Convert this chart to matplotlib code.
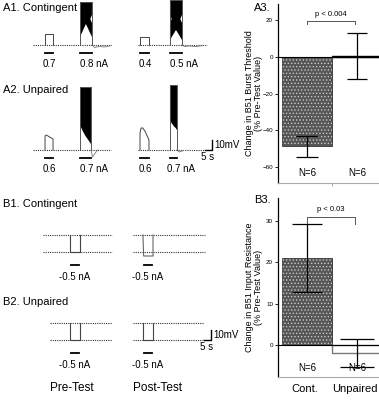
import numpy as np
import matplotlib
matplotlib.use('Agg')
import matplotlib.pyplot as plt
from matplotlib.transforms import Affine2D

plt.rcParams['font.family'] = ['Liberation Sans', 'DejaVu Sans']
plt.rcParams['hatch.linewidth'] = 0.6

# ---- bar chart data ----
groups = ['Cont.', 'Unpaired']
n_labels = ['N=6', 'N=6']
threshold_mean = [-49, 0.4]
threshold_sem = [6, 12.5]
resistance_mean = [21, -2]
resistance_sem = [8.2, 3.4]

# ---- intracellular traces (time in s, membrane potential in mV rel. to rest) ----
# A1 contingent
a1_pre_span = [0, 56]
a1_pre_step = ([8.6, 8.6, 14.3, 14.3], [0, 11, 11, 0])
a1_pre_burst = ([33.6, 33.6, 42.1, 42.1], [0, 43, 43, 0])
a1_pre_spikes = ([33.6, 33.6, 42.1, 42.1, 40.9, 42.1, 42.1, 39.8, 37.8, 35.8, 33.6],
                 [8, 43, 43, 30, 26, 22, 8, 15, 21, 15, 8])
a1_pre_ahp = ([42.1, 44, 47, 51, 56], [0, -2.5, -1.5, -2, -0.5])
a1_post_span = [3.6, 53]
a1_post_step = ([5, 5, 11.4, 11.4], [0, 8, 8, 0])
a1_post_burst = ([26.4, 26.4, 35, 35], [0, 45, 45, 0])
a1_post_spikes = ([26.4, 26.4, 27.6, 26.4, 26.4, 28.5, 30.7, 32.9, 35, 35, 33.8, 35, 35],
                  [45, 30, 26, 22, 5, 10, 15, 10, 5, 22, 26, 30, 45])
a1_post_ahp = ([35, 37, 40, 45, 50], [0, -1.5, -1, -1.5, -0.5])

# A2 unpaired
a2_pre_span = [0, 56]
a2_pre_step = ([8.6, 8.6, 9.5, 14.3, 14.3], [0, 14, 15, 11, 0])
a2_pre_burst = ([33.6, 33.6, 41.4, 41.4], [0, 63, 63, 0])
a2_pre_spikes = ([33.6, 33.6, 41.4, 41.4, 39.5, 37.5, 35.5, 33.6],
                 [25, 63, 63, 6, 10, 14, 19, 25])
a2_pre_ahp = ([41.4, 42.5, 44, 46], [0, -7, -4, 0])
a2_post_span = [3.6, 51]
a2_post_step = ([5, 5, 5.8, 7, 8.5, 10.5, 11.4, 11.4], [0, 17, 22, 22, 19, 13, 10, 0])
a2_post_burst = ([26.4, 26.4, 31.4, 31.4], [0, 65, 65, 0])
a2_post_spikes = ([26.4, 26.4, 31.4, 31.4, 30.5, 29, 27.5, 26.4],
                  [30, 65, 65, 20, 22, 24, 27, 30])
a2_post_ahp = ([31.4, 33, 36], [0, -2, -0.5])

# B1 contingent / B2 unpaired (hyperpolarizing pulses)
b_ref_mv = -17
b1_pre_span = [7, 56.4]
b1_pre_step = ([26.4, 26.4, 33.6, 33.6], [0, -17, -17, 0])
b1_post_span = [0, 51.4]
b1_post_step = ([7.1, 7.6, 14.3, 14.3], [0, -21, -21, 0])
b2_pre_span = [12.1, 56.4]
b2_pre_step = ([26.4, 26.4, 33.6, 33.6], [0, -17, -17, 0])
b2_post_span = [0, 50]
b2_post_step = ([7.1, 7.1, 14.3, 14.3], [0, -17, -17, 0])

a1_labels = [['0.7', '0.8'], ['0.4', '0.5']]
a2_labels = [['0.6', '0.7'], ['0.6', '0.7']]
b_labels = ['-0.5', '-0.5']

PX_S = 1.4   # pixels per second
PX_MV = 1.0  # pixels per mV

fig = plt.figure(figsize=(3.79, 4.0), dpi=100)
tr = fig.add_axes([0, 0, 1, 1])
tr.set_xlim(0, 379)
tr.set_ylim(400, 0)
tr.axis('off')


def tf(x0, y0):
    return Affine2D().scale(PX_S, -PX_MV).translate(x0, y0) + tr.transData


def to_px(T, pt):
    return tr.transData.inverted().transform(T.transform(pt))


def baseline(T, span, v=0):
    tr.plot(span, [v, v], transform=T, color='#333333', lw=0.8,
            ls=(0, (1, 1)))


def draw_a_trace(x0, y0, span, step, burst, spikes, ahp, labels):
    T = tf(x0, y0)
    baseline(T, span)
    tr.plot(*ahp, transform=T, color='#777777', lw=0.6)
    tr.plot(*step, transform=T, color='#444444', lw=0.7)
    tr.plot(*burst, transform=T, color='#555555', lw=0.7)
    tr.fill(*spikes, transform=T, color='black', lw=0)
    for (t, v), lab, unit in zip([step, burst], labels, ['', ' nA']):
        t0, t1 = min(t), max(t)
        tr.plot([t0, t1], [-8, -8], transform=T, color='black', lw=1.3)
        xc, yc = to_px(T, ((t0 + t1) / 2, -19))
        tr.text(xc - 6, yc, lab + unit, ha='left', va='center', fontsize=7)


def draw_b_trace(x0, y0, span, step, lab, step_color='#444444'):
    T = tf(x0, y0)
    baseline(T, span)
    baseline(T, span, b_ref_mv)
    tr.plot(*step, transform=T, color=step_color, lw=0.8)
    t0, t1 = min(step[0]), max(step[0])
    tr.plot([t0 + 0.5, t1 - 0.5], [-30, -30], transform=T, color='black', lw=1.3)
    xc, yc = to_px(T, ((t0 + t1) / 2, -42))
    tr.text(xc, yc, lab + ' nA', ha='center', va='center', fontsize=7)


def scale_bar(x0, y0):
    T = tf(x0, y0)
    tr.plot([-5, 0, 0], [0, 0, 10], transform=T, color='black', lw=1.0)
    tr.text(x0 + 2, y0 - 5, '10mV', ha='left', va='center', fontsize=7)
    tr.text(x0 - 4, y0 + 7, '5 s', ha='center', va='center', fontsize=7)


PRE_X, POST_X = 33, 133
A1_Y, A2_Y, B1_Y, B2_Y = 45, 150, 235, 323

tr.text(3, 8, 'A1. Contingent', fontsize=8, va='center')
tr.text(3, 90, 'A2. Unpaired', fontsize=8, va='center')
tr.text(3, 204, 'B1. Contingent', fontsize=8, va='center')
tr.text(3, 302, 'B2. Unpaired', fontsize=8, va='center')

draw_a_trace(PRE_X, A1_Y, a1_pre_span, a1_pre_step, a1_pre_burst,
             a1_pre_spikes, a1_pre_ahp, a1_labels[0])
draw_a_trace(POST_X, A1_Y, a1_post_span, a1_post_step, a1_post_burst,
             a1_post_spikes, a1_post_ahp, a1_labels[1])
draw_a_trace(PRE_X, A2_Y, a2_pre_span, a2_pre_step, a2_pre_burst,
             a2_pre_spikes, a2_pre_ahp, a2_labels[0])
draw_a_trace(POST_X, A2_Y, a2_post_span, a2_post_step, a2_post_burst,
             a2_post_spikes, a2_post_ahp, a2_labels[1])
scale_bar(212, A2_Y)

draw_b_trace(PRE_X, B1_Y, b1_pre_span, b1_pre_step, b_labels[0])
draw_b_trace(POST_X, B1_Y, b1_post_span, b1_post_step, b_labels[1], '#666666')
draw_b_trace(PRE_X, B2_Y, b2_pre_span, b2_pre_step, b_labels[0])
draw_b_trace(POST_X, B2_Y, b2_post_span, b2_post_step, b_labels[1])
scale_bar(211, B2_Y - b_ref_mv * PX_MV)

tr.text(72, 388, 'Pre-Test', ha='center', va='center', fontsize=8.5)
tr.text(157, 388, 'Post-Test', ha='center', va='center', fontsize=8.5)

# ---- bar charts ----
x = np.arange(len(groups))


def bar_panel(ax, mean, sem, ylim, yticks, p_text, p_y, n_y, caps, ylabel,
              second_edge):
    ax.bar(x, mean, width=1.0, color=['#555555', 'white'],
           edgecolor=['#333333', second_edge], linewidth=[0.6, 1.0], zorder=2)
    ax.bar(x[0], mean[0], width=1.0, facecolor='none', edgecolor='#c8c8c8',
           hatch='.....', linewidth=0, zorder=2)
    ax.axhline(0, color='black', lw=0.8, zorder=3)
    for i in range(len(x)):
        ax.errorbar(x[i], mean[i], yerr=sem[i], fmt='none', ecolor='black',
                    elinewidth=0.9, capsize=caps[i], capthick=0.9, zorder=4)
    ax.plot([0, 0, 0.95, 0.95], [p_y - 1.6, p_y, p_y, p_y - 1.6],
            color='#555555', lw=0.7)
    ax.text(0.47, p_y + 0.02 * (ylim[1] - ylim[0]), p_text, ha='center',
            va='bottom', fontsize=5.5)
    for i, lab in enumerate(n_labels):
        ax.text(x[i], n_y, lab, ha='center', va='center', fontsize=7)
    ax.set_xlim(-0.58, 1.44)
    ax.set_ylim(*ylim)
    ax.set_yticks(yticks)
    ax.tick_params(axis='y', labelsize=4.5, length=2, width=0.6, pad=1.5)
    ax.spines['top'].set_visible(False)
    ax.spines['right'].set_visible(False)
    ax.spines['bottom'].set_color('#aaaaaa')
    ax.spines['left'].set_linewidth(0.9)
    ax.set_ylabel(ylabel, fontsize=6.5, linespacing=1.1)
    ax.yaxis.set_label_coords(-0.145, 0.5)


axA = fig.add_axes([278 / 379, 1 - 183 / 400, 101 / 379, 179 / 400])
bar_panel(axA, threshold_mean, threshold_sem, (-69, 29), [-60, -40, -20, 0, 20],
          'p < 0.004', 19.5, -63.5, [8, 7],
          'Change in B51 Burst Threshold\n(% Pre-Test Value)', 'black')
axA.set_xticks([0.5])
axA.set_xticklabels([''])
axA.tick_params(axis='x', length=2, color='#aaaaaa')

axB = fig.add_axes([278 / 379, 1 - 377 / 400, 101 / 379, 179 / 400])
bar_panel(axB, resistance_mean, resistance_sem, (-7.7, 35.6), [0, 10, 20, 30],
          'p < 0.03', 31, -5.6, [11, 12],
          'Change in B51 Input Resistance\n(% Pre-Test Value)', '#777777')
axB.set_xticks([])
xlab_tf = axB.get_xaxis_transform()
axB.text(x[0] - 0.04, -0.065, groups[0], transform=xlab_tf, ha='center',
         va='center', fontsize=8)
axB.text(x[1] - 0.04, -0.065, groups[1], transform=xlab_tf, ha='center',
         va='center', fontsize=8)

fig.text(254 / 379, 1 - 8 / 400, 'A3.', fontsize=8, va='center')
fig.text(254 / 379, 1 - 200 / 400, 'B3.', fontsize=8, va='center')

fig.savefig('out.png', dpi=100)
